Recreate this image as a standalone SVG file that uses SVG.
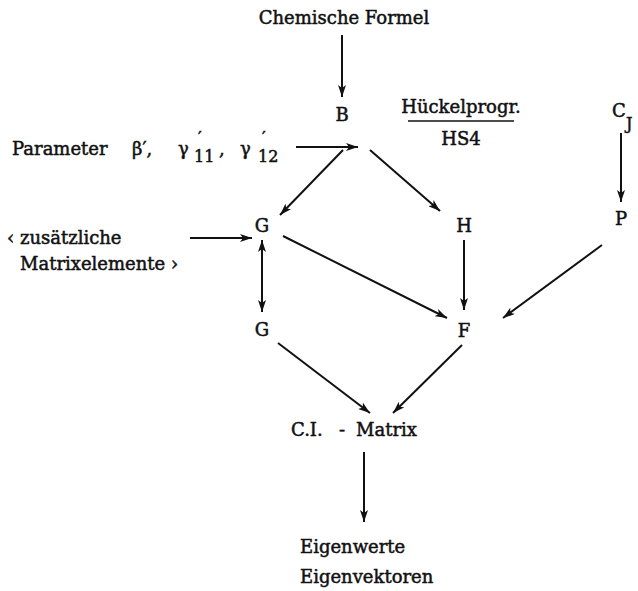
<svg xmlns="http://www.w3.org/2000/svg" width="638" height="591" viewBox="0 0 638 591">
<style>
text{font-family:"DejaVu Serif",serif;font-size:18px;fill:#111;stroke:#111;stroke-width:0.5;white-space:pre;}
.c{text-anchor:middle;}
.sub{font-size:16px;}
.ln{stroke:#111;stroke-width:2;fill:none;marker-end:url(#ah);}
.dl{stroke:#111;stroke-width:2;fill:none;marker-end:url(#ah);marker-start:url(#ahs);}
</style>
<defs>
<marker id="ah" viewBox="0 0 12 8" refX="12" refY="4" markerWidth="12" markerHeight="8" markerUnits="userSpaceOnUse" orient="auto"><path d="M0,0 L12,4 L0,8 L3,4 Z" fill="#111"/></marker>
<marker id="ahs" viewBox="0 0 12 8" refX="0" refY="4" markerWidth="12" markerHeight="8" markerUnits="userSpaceOnUse" orient="auto"><path d="M12,0 L0,4 L12,8 L9,4 Z" fill="#111"/></marker>
</defs>
<g id="chem"><text class="c" x="344" y="24">Chemische Formel</text></g>
<g id="B"><text class="c" x="342" y="121">B</text></g>
<g id="hueckel"><text class="c" x="461" y="113">Hückelprogr.</text><line x1="408" y1="121" x2="514" y2="121" stroke="#111" stroke-width="1.5"/><text class="c" x="461" y="145">HS4</text></g>
<g id="CJ"><text x="612" y="117">C</text><text class="sub" x="626" y="129">J</text></g>
<g id="param"><text x="12" y="155">Parameter</text><text x="132" y="155">β′,</text><text x="178" y="155">γ</text><text class="sub" x="198" y="143">′</text><text class="sub" x="194" y="162">11</text><text x="219" y="155">,</text><text x="240" y="155">γ</text><text class="sub" x="262" y="143">′</text><text class="sub" x="258" y="162">12</text></g>
<g id="zus"><text x="7" y="244">‹ zusätzliche</text><text x="20" y="270">Matrixelemente ›</text></g>
<g id="G1"><text class="c" x="262" y="232">G</text></g>
<g id="H"><text class="c" x="464" y="232">H</text></g>
<g id="P"><text class="c" x="621" y="225">P</text></g>
<g id="G2"><text class="c" x="262" y="336">G</text></g>
<g id="F"><text class="c" x="464" y="337">F</text></g>
<g id="CI"><text x="291" y="436">C.I.</text><text class="c" x="342" y="436">-</text><text x="356" y="436">Matrix</text></g>
<g id="eig"><text x="300" y="553">Eigenwerte</text><text x="300" y="583">Eigenvektoren</text></g>
<g id="connectors">
<line class="ln" x1="296" y1="147" x2="358" y2="147"/>
<line class="ln" x1="342" y1="35" x2="342" y2="97"/>
<line class="ln" x1="343" y1="150" x2="280" y2="215"/>
<line class="ln" x1="370" y1="150" x2="440" y2="211"/>
<line class="ln" x1="621" y1="133" x2="621" y2="202"/>
<line class="ln" x1="190" y1="238" x2="252" y2="238"/>
<line class="dl" x1="262" y1="240" x2="262" y2="312"/>
<line class="ln" x1="283" y1="236" x2="447" y2="318"/>
<line class="ln" x1="464" y1="240" x2="464" y2="310"/>
<line class="ln" x1="602" y1="245" x2="503" y2="318"/>
<line class="ln" x1="278" y1="343" x2="370" y2="413"/>
<line class="ln" x1="462" y1="345" x2="393" y2="413"/>
<line class="ln" x1="364" y1="452" x2="364" y2="522"/>
</g>
</svg>
